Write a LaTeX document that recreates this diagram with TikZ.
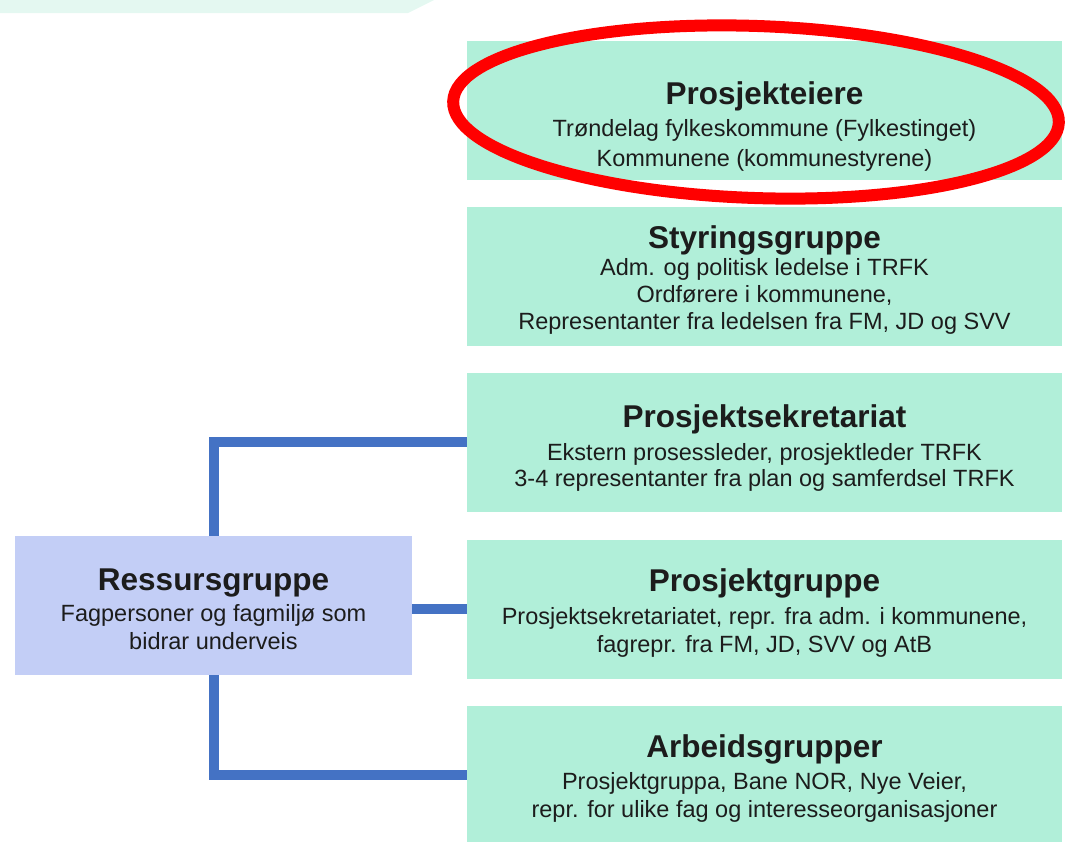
\documentclass[tikz,border=0pt]{standalone}
\usepackage{fontspec}
\setmainfont{Liberation Sans}
\usetikzlibrary{positioning}

\definecolor{boxgreen}{HTML}{B1EFD9}
\definecolor{boxblue}{HTML}{C3CEF6}
\definecolor{linkblue}{HTML}{4472C4}
\definecolor{stripgreen}{HTML}{E4F8F1}
\definecolor{ringred}{HTML}{FF0000}
\definecolor{inkdark}{HTML}{1C1C1C}

\tikzset{
  gbox/.style={fill=boxgreen, minimum width=595pt, minimum height=139pt, inner sep=0pt},
  bbox/.style={fill=boxblue, minimum width=397pt, minimum height=139pt, inner sep=0pt},
  txt/.style={align=center, inner sep=0pt, text=inkdark, font=\fontsize{23.5}{28}\selectfont},
  link/.style={draw=linkblue, line width=10pt, line join=miter},
}
\newcommand{\boxtitle}[1]{{\fontsize{31.5}{34}\selectfont\bfseries #1}}

\begin{document}
\begin{tikzpicture}[x=1pt,y=-1pt]
    \useasboundingbox (0,0) rectangle (1079,841);
    \fill[stripgreen] (0,0) -- (434,0) -- (408,13) -- (0,13) -- cycle;

        \node[gbox] (eiere) at (764.5,110) {};
        \node[gbox] (styring) at (764.5,276) {};
        \node[gbox] (sekr) at (764.5,442) {};
        \node[gbox] (prosjgr) at (764.5,609) {};
        \node[gbox] (arbeid) at (764.5,775) {};
        \node[bbox] (ressurs) at (213.5,605.5) {};

        \node[txt] (eiere-t) at (764.5,127) {\boxtitle{Prosjekteiere}\\[4pt]
          Trøndelag fylkeskommune (Fylkestinget)\\[2pt] Kommunene (kommunestyrene)};
        \node[txt] (styring-t) at (764.5,280) {\boxtitle{Styringsgruppe}\\[-1pt]
          Adm. og politisk ledelse i TRFK\\[-1pt] Ordførere i kommunene,\\[-1pt]
          Representanter fra ledelsen fra FM, JD og SVV};
        \node[txt] (sekr-t) at (764.5,448) {\boxtitle{Prosjektsekretariat}\\[5pt]
          Ekstern prosessleder, prosjektleder TRFK\\[-2pt]
          3-4 representanter fra plan og samferdsel TRFK};
        \node[txt] (prosjgr-t) at (764.5,613) {\boxtitle{Prosjektgruppe}\\[5pt]
          Prosjektsekretariatet, repr. fra adm. i kommunene,\\
          fagrepr. fra FM, JD, SVV og AtB};
        \node[txt] (arbeid-t) at (764.5,779) {\boxtitle{Arbeidsgrupper}\\[4pt]
          Prosjektgruppa, Bane NOR, Nye Veier,\\
          repr. for ulike fag og interesseorganisasjoner};
        \node[txt] (ressurs-t) at (213.5,609) {\boxtitle{Ressursgruppe}\\[3pt]
          Fagpersoner og fagmiljø som\\ bidrar underveis};

    \draw[link] (sekr.west) -| (ressurs.north);
    \draw[link] (ressurs.east |- prosjgr.west) -- (prosjgr.west);
    \draw[link] (ressurs.south) |- (arbeid.west);

    \draw[ringred, line width=12pt, rotate around={-2:(756,112)}]
      (756,112) ellipse [x radius=303pt, y radius=86pt];
\end{tikzpicture}
\end{document}
